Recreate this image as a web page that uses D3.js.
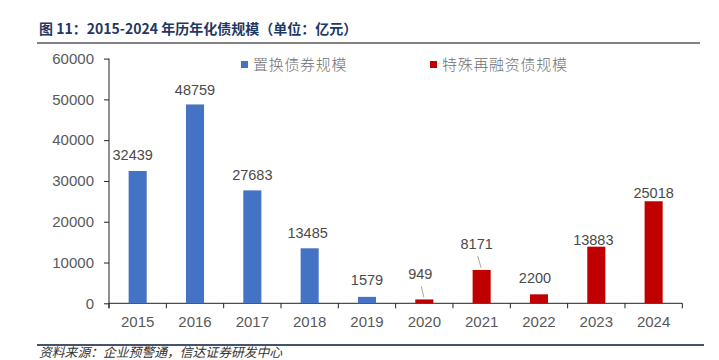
<!DOCTYPE html>
<html>
<head>
<meta charset="utf-8">
<script src="https://cdn.jsdelivr.net/npm/d3@7/dist/d3.min.js"></script>
<style>
  body { margin: 0; background: #fff; }
  svg { display: block; }
</style>
</head>
<body>
<svg id="chart" width="719" height="360"></svg>
<script>
"use strict";

// data
let years = ['2015', '2016', '2017', '2018', '2019', '2020', '2021', '2022', '2023', '2024'];
let values = [32439, 48759, 27683, 13485, 1579, 949, 8171, 2200, 13883, 25018];
let seriesOf = ['swap', 'swap', 'swap', 'swap', 'swap', 'refi', 'refi', 'refi', 'refi', 'refi'];
let seriesNames = ['置换债券规模', '特殊再融资债规模'];
let yTicks = [0, 10000, 20000, 30000, 40000, 50000, 60000];

let colors = { swap: '#4472C4', refi: '#C00000' };

// label placement tweaks (dx from bar centre, gap above bar top, leader line?)
let labelDx = [-5, 0, 0, -2, 0, -4, -5, -4, -3, 0];
let labelGap = [11, 9, 10, 10, 12, 20, 21, 11, 1.5, 3.5];
let leader = [false, false, false, false, false, true, true, false, false, false];

let svg = d3.select('#chart');
let font = 'Arial, "Liberation Sans", "Noto Sans CJK SC", sans-serif';
let cjk = '"Noto Sans CJK SC", sans-serif';

// header
svg.append('text')
    .attr('x', 39)
    .attr('y', 34)
    .style('font-family', cjk)
    .style('font-weight', 'bold')
    .style('font-size', '14px')
    .style('fill', '#1F3864')
    .text('图 11：2015-2024 年历年化债规模（单位：亿元）');

svg.append('line')
    .attr('x1', 37).attr('x2', 700)
    .attr('y1', 43).attr('y2', 43)
    .style('stroke', '#595959')
    .style('stroke-width', 1.5);

// scales
let x = d3.scaleBand()
    .domain(years)
    .range([109, 682.3])
    .paddingInner(0)
    .paddingOuter(0);

let y = d3.scaleLinear()
    .domain([0, 60000])
    .range([303.3, 58.6]);

let barW = x.bandwidth() * 0.315;

// y axis
let yAxis = svg.append('g')
    .attr('transform', 'translate(109,0)')
    .call(d3.axisLeft(y).tickValues(yTicks).tickSize(5).tickPadding(10).tickFormat(d3.format('d')));
yAxis.select('.domain').attr('d', 'M0,' + y(60000) + 'V' + (y(0) + 5)).style('stroke', '#222');
yAxis.selectAll('.tick line').style('stroke', '#222');
yAxis.selectAll('.tick text')
    .style('font-family', font)
    .style('font-size', '15px')
    .style('fill', '#595959');

// x axis with ticks on category boundaries
let xAxis = svg.append('g')
    .attr('transform', 'translate(0,' + y(0) + ')');
xAxis.append('line')
    .attr('x1', 109).attr('x2', 682.3)
    .style('stroke', '#222');
xAxis.selectAll('line.tick')
    .data(years.concat(['end']))
    .enter()
    .append('line')
    .attr('class', 'tick')
    .attr('x1', function (d, i) { return 109 + i * x.bandwidth(); })
    .attr('x2', function (d, i) { return 109 + i * x.bandwidth(); })
    .attr('y1', 0).attr('y2', 5)
    .style('stroke', '#222');
xAxis.selectAll('text')
    .data(years)
    .enter()
    .append('text')
    .attr('x', function (d) { return x(d) + x.bandwidth() / 2; })
    .attr('y', 24)
    .attr('text-anchor', 'middle')
    .style('font-family', font)
    .style('font-size', '15px')
    .style('fill', '#595959')
    .text(function (d) { return d; });

// bars
svg.append('g')
    .selectAll('rect')
    .data(values)
    .enter()
    .append('rect')
    .attr('x', function (d, i) { return x(years[i]) + x.bandwidth() / 2 - barW / 2; })
    .attr('y', function (d) { return y(d); })
    .attr('width', barW)
    .attr('height', function (d) { return y(0) - y(d); })
    .style('fill', function (d, i) { return colors[seriesOf[i]]; });

// leader lines for the small bars
svg.append('g')
    .selectAll('line')
    .data(values.map(function (v, i) { return { v: v, i: i }; }).filter(function (d) { return leader[d.i]; }))
    .enter()
    .append('line')
    .attr('x1', function (d) { return x(years[d.i]) + x.bandwidth() / 2 + labelDx[d.i] + 1; })
    .attr('y1', function (d) { return y(d.v) - labelGap[d.i] + 7; })
    .attr('x2', function (d) { return x(years[d.i]) + x.bandwidth() / 2 - 0.5; })
    .attr('y2', function (d) { return y(d.v) - 2; })
    .style('stroke', '#A6A6A6')
    .style('stroke-width', 1);

// value labels
svg.append('g')
    .selectAll('text')
    .data(values)
    .enter()
    .append('text')
    .attr('x', function (d, i) { return x(years[i]) + x.bandwidth() / 2 + labelDx[i]; })
    .attr('y', function (d, i) { return y(d) - labelGap[i]; })
    .attr('text-anchor', 'middle')
    .style('font-family', font)
    .style('font-size', '14.5px')
    .style('fill', '#4a4a4a')
    .text(function (d) { return d; });

// legend
let legendX = [241, 430];
let legend = svg.append('g')
    .selectAll('g')
    .data(seriesNames)
    .enter()
    .append('g')
    .attr('transform', function (d, i) { return 'translate(' + legendX[i] + ',61)'; });
legend.append('rect')
    .attr('width', 7).attr('height', 7)
    .style('fill', function (d, i) { return i === 0 ? colors.swap : colors.refi; });
legend.append('text')
    .attr('x', 12)
    .attr('y', 9)
    .style('font-family', cjk)
    .style('font-weight', 300)
    .style('font-size', '15px')
    .style('letter-spacing', '0.7px')
    .style('fill', '#707070')
    .text(function (d) { return d; });

// footer
svg.append('line')
    .attr('x1', 37).attr('x2', 704)
    .attr('y1', 345).attr('y2', 345)
    .style('stroke', '#44546A')
    .style('stroke-width', 2);

svg.append('text')
    .attr('x', 39)
    .attr('y', 357)
    .style('font-family', cjk)
    .style('font-style', 'italic')
    .style('font-size', '12.8px')
    .style('fill', '#333')
    .text('资料来源：企业预警通，信达证券研发中心');
</script>
</body>
</html>
